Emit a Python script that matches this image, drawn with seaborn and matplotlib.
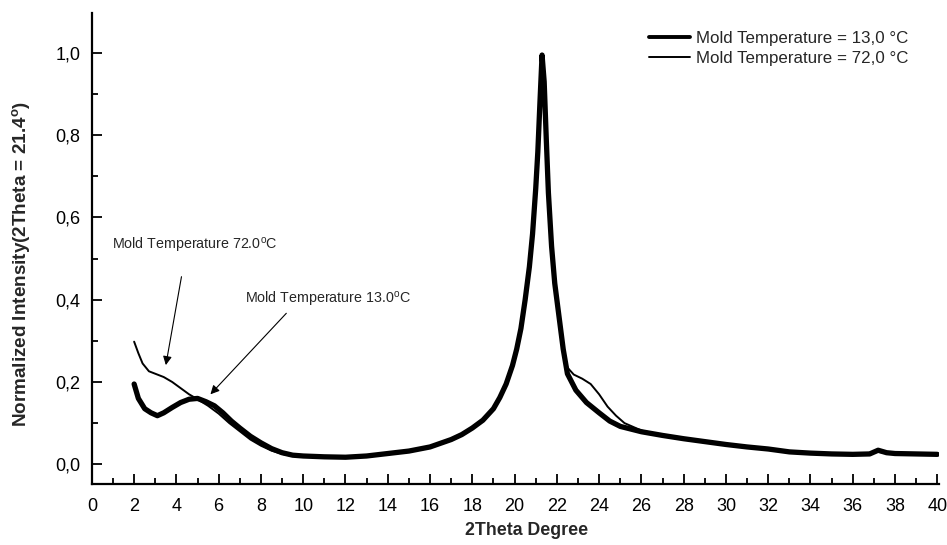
import numpy as np
import pandas as pd
import matplotlib.pyplot as plt
import seaborn as sns
from matplotlib.ticker import MultipleLocator

# Mold temperature = 13,0 C (thick, noisy trace)
x_13 = [2.0, 2.2, 2.5, 2.8, 3.1, 3.4, 3.8, 4.2, 4.6, 5.0, 5.4, 5.8, 6.2, 6.6, 7.0,
        7.5, 8.0, 8.5, 9.0, 9.5, 10.0, 11.0, 12.0, 13.0, 14.0, 15.0, 16.0, 17.0,
        17.5, 18.0, 18.5, 19.0, 19.3, 19.6, 19.9, 20.1, 20.3, 20.5, 20.7, 20.85,
        21.0, 21.1, 21.2, 21.3, 21.4, 21.5, 21.6, 21.75, 21.9, 22.1, 22.3, 22.5,
        22.9, 23.4, 24.0, 24.5, 25.0, 26.0, 27.0, 28.0, 29.0, 30.0, 31.0, 32.0,
        33.0, 34.0, 35.0, 36.0, 36.8, 37.2, 37.6, 38.0, 39.0, 40.0]
y_13 = [0.195, 0.16, 0.135, 0.125, 0.118, 0.125, 0.138, 0.15, 0.158, 0.16, 0.152,
        0.142, 0.125, 0.105, 0.088, 0.068, 0.052, 0.038, 0.028, 0.022, 0.02, 0.018,
        0.017, 0.02, 0.026, 0.032, 0.042, 0.06, 0.072, 0.088, 0.107, 0.135, 0.162,
        0.195, 0.24, 0.28, 0.33, 0.4, 0.48, 0.56, 0.67, 0.76, 0.88, 0.995, 0.93,
        0.79, 0.66, 0.53, 0.44, 0.36, 0.28, 0.22, 0.18, 0.15, 0.125, 0.105, 0.092,
        0.079, 0.07, 0.062, 0.055, 0.048, 0.042, 0.037, 0.03, 0.027, 0.025, 0.024,
        0.025, 0.034, 0.028, 0.026, 0.025, 0.024]

# Mold temperature = 72,0 C (thin trace)
x_72 = [2.0, 2.2, 2.4, 2.7, 3.0, 3.4, 3.8, 4.2, 4.6, 5.0, 5.5, 6.0, 6.5, 7.0, 7.5,
        8.0, 8.5, 9.0, 9.5, 10.0, 11.0, 12.0, 13.0, 14.0, 15.0, 16.0, 17.0, 18.0,
        18.5, 19.0, 19.5, 20.0, 20.3, 20.5, 20.7, 20.85, 21.0, 21.1, 21.2, 21.3,
        21.4, 21.5, 21.6, 21.75, 21.9, 22.1, 22.3, 22.5, 22.8, 23.2, 23.6, 24.0,
        24.4, 24.8, 25.2, 26.0, 27.0, 28.0, 30.0, 32.0, 34.0, 36.0, 37.2, 38.0, 40.0]
y_72 = [0.298, 0.27, 0.245, 0.226, 0.22, 0.212, 0.2, 0.185, 0.17, 0.158, 0.142,
        0.123, 0.1, 0.08, 0.06, 0.045, 0.033, 0.025, 0.02, 0.018, 0.017, 0.017,
        0.019, 0.024, 0.031, 0.04, 0.058, 0.086, 0.105, 0.133, 0.185, 0.26, 0.33,
        0.4, 0.48, 0.56, 0.67, 0.77, 0.89, 0.99, 0.94, 0.8, 0.67, 0.54, 0.45, 0.36,
        0.28, 0.235, 0.218, 0.208, 0.195, 0.17, 0.14, 0.118, 0.1, 0.082, 0.07,
        0.062, 0.047, 0.036, 0.027, 0.023, 0.03, 0.025, 0.023]

labels = ['Mold Temperature = 13,0 °C', 'Mold Temperature = 72,0 °C']
x_ticks = list(range(0, 41, 2))
y_ticks = [0.0, 0.2, 0.4, 0.6, 0.8, 1.0]
y_tick_labels = ['0,0', '0,2', '0,4', '0,6', '0,8', '1,0']

sns.set_style('ticks')
plt.rcParams['font.family'] = ['Liberation Sans', 'DejaVu Sans']
plt.rcParams['mathtext.fontset'] = 'custom'
plt.rcParams['mathtext.rm'] = 'Liberation Sans'
plt.rcParams['mathtext.bf'] = 'Liberation Sans:bold'

df13 = pd.DataFrame({'x': x_13, 'y': y_13})
df72 = pd.DataFrame({'x': x_72, 'y': y_72})

fig = plt.figure(figsize=(9.47, 5.45), dpi=100)
ax = fig.add_axes([0.097, 0.112, 0.895, 0.864])

sns.lineplot(data=df13, x='x', y='y', ax=ax, color='black', linewidth=3.8,
             label=labels[0], sort=False)
sns.lineplot(data=df72, x='x', y='y', ax=ax, color='black', linewidth=1.4,
             label=labels[1], sort=False)

ax.set_xlim(0, 40.1)
ax.set_ylim(-0.048, 1.097)
ax.set_xticks(x_ticks)
ax.xaxis.set_minor_locator(MultipleLocator(1))
ax.set_yticks(y_ticks)
ax.set_yticklabels(y_tick_labels)
ax.yaxis.set_minor_locator(MultipleLocator(0.1))
ax.tick_params(which='both', direction='in', labelsize=13, width=1.3,
               colors='black')
ax.tick_params(which='major', length=7)
ax.tick_params(which='minor', length=4)
ax.tick_params(axis='x', pad=10)
ax.tick_params(axis='y', pad=8)

for s in ['top', 'right']:
    ax.spines[s].set_visible(False)
for s in ['left', 'bottom']:
    ax.spines[s].set_linewidth(1.6)
    ax.spines[s].set_color('black')

ax.set_xlabel('2Theta Degree', fontsize=12.8, fontweight='bold')
ax.set_ylabel(r'Normalized Intensity(2Theta = 21.4$^\mathbf{o}$)', fontsize=13.6,
              fontweight='bold')
ax.xaxis.label.set_va('center')
ax.yaxis.label.set_va('center')
ax.xaxis.set_label_coords(0.513, -0.098)
ax.yaxis.set_label_coords(-0.083, 0.467)

arrow = dict(arrowstyle='-|>', color='black', lw=0.8, shrinkA=0, shrinkB=0,
             mutation_scale=13)
ax.text(0.95, 0.533, r'Mold Temperature 72.0$^\mathrm{o}$C', fontsize=10.3,
        va='center')
ax.annotate('', xy=(3.5, 0.241), xytext=(4.24, 0.456), arrowprops=arrow)
ax.text(7.23, 0.40, r'Mold Temperature 13.0$^\mathrm{o}$C', fontsize=10.3,
        va='center')
ax.annotate('', xy=(5.61, 0.17), xytext=(9.2, 0.367), arrowprops=arrow)

leg = ax.legend(loc='upper right', bbox_to_anchor=(0.966, 0.955),
                bbox_transform=fig.transFigure, frameon=False, fontsize=12.2,
                handlelength=2.4, handletextpad=0.35, labelspacing=0.3,
                borderaxespad=0)
leg.get_lines()[0].set_linewidth(2.8)
leg.get_lines()[1].set_linewidth(1.4)

fig.savefig('out.png', dpi=100)
